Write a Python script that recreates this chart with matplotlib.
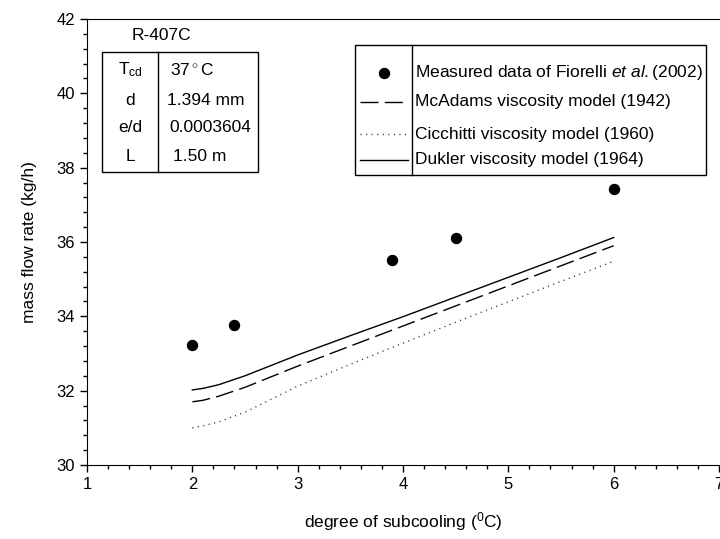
import numpy as np
import matplotlib.pyplot as plt
from matplotlib.ticker import MultipleLocator

plt.rcParams['font.family'] = 'Liberation Sans'
plt.rcParams['mathtext.fontset'] = 'custom'
plt.rcParams['mathtext.rm'] = 'Liberation Sans'
plt.rcParams['mathtext.it'] = 'Liberation Sans:italic'

# measured data (Fiorelli et al. 2002)
meas_x = [2.0, 2.4, 3.9, 4.5, 6.0]
meas_y = [33.24, 33.78, 35.52, 36.12, 37.43]

# model curves
model_x = [2.0, 2.1, 2.25, 2.5, 3.0, 3.5, 4.0, 4.5, 5.0, 5.5, 6.0]
mcadams = [31.70, 31.74, 31.85, 32.09, 32.66, 33.20, 33.74, 34.28, 34.82, 35.36, 35.90]
cicchitti = [31.00, 31.05, 31.16, 31.42, 32.12, 32.71, 33.28, 33.84, 34.39, 34.94, 35.48]
dukler = [32.02, 32.06, 32.16, 32.40, 32.96, 33.48, 33.99, 34.52, 35.05, 35.58, 36.12]

legend_labels = ['Measured data of Fiorelli $\\it{et\\ al.}$(2002)',
                 'McAdams viscosity model (1942)',
                 'Cicchitti viscosity model (1960)',
                 'Dukler viscosity model (1964)']

table_keys = ['T$_{\\rm cd}$', 'd', 'e/d', 'L']
table_vals = ['37$^\\circ$C', '1.394 mm', '0.0003604', '1.50 m']

fig = plt.figure(figsize=(7.2, 5.39), dpi=100)
ax = fig.add_axes([87/720, 1 - 465/539, 632/720, 446/539])

dash_style = (0, (13, 4.5))
dot_style = (0, (0.8, 3.2))

ax.plot(meas_x, meas_y, 'o', color='black', markersize=7.2, clip_on=False)
ax.plot(model_x, mcadams, color='black', lw=1.0, linestyle=dash_style)
ax.plot(model_x, cicchitti, color='#333333', lw=1.0, linestyle=dot_style)
ax.plot(model_x, dukler, color='black', lw=1.0)

ax.set_xlim(1, 7)
ax.set_ylim(30, 42)
ax.xaxis.set_major_locator(MultipleLocator(1))
ax.xaxis.set_minor_locator(MultipleLocator(0.2))
ax.yaxis.set_major_locator(MultipleLocator(2))
ax.yaxis.set_minor_locator(MultipleLocator(0.4))
ax.tick_params(which='both', direction='out', labelsize=12, width=1.0)
ax.tick_params(which='major', length=5)
ax.tick_params(which='minor', length=3)
ax.spines['right'].set_visible(False)
ax.set_xlabel('degree of subcooling ($^0$C)', fontsize=12.5, labelpad=13)
ax.set_ylabel('mass flow rate (kg/h)', fontsize=12.5, labelpad=14)

# legend box with divider
tr = ax.transAxes
ax.add_patch(plt.Rectangle((0.424, 0.650), 0.555, 0.2917, transform=tr,
                           fill=False, lw=1.0, ec='black'))
ax.plot([0.514, 0.514], [0.650, 0.9417], transform=tr, color='black', lw=1.0)
row_y = [0.879, 0.814, 0.742, 0.684]
ax.plot([0.470], [row_y[0]], 'o', color='black', markersize=7.2, transform=tr)
ax.plot([0.432, 0.508], [row_y[1]] * 2, transform=tr, color='black', lw=1.0,
        linestyle=dash_style)
ax.plot([0.432, 0.508], [row_y[2]] * 2, transform=tr, color='#333333', lw=1.0,
        linestyle=dot_style)
ax.plot([0.432, 0.508], [row_y[3]] * 2, transform=tr, color='black', lw=1.0)
for y, lab in zip(row_y, legend_labels):
    ax.text(0.519, y, lab, transform=tr, fontsize=12.5, va='center', ha='left')

# parameter table
ax.text(0.117, 0.964, 'R-407C', transform=tr, fontsize=12.5, ha='center', va='center')
ax.add_patch(plt.Rectangle((0.0233, 0.656), 0.2467, 0.269, transform=tr,
                           fill=False, lw=1.0, ec='black'))
ax.plot([0.1128, 0.1128], [0.656, 0.925], transform=tr, color='black', lw=1.0)
tab_y = [0.886, 0.818, 0.756, 0.691]
val_x = [0.131, 0.1266, 0.131, 0.136]
for y, k, v, vx in zip(tab_y, table_keys, table_vals, val_x):
    ax.text(0.068, y, k, transform=tr, fontsize=12.5, ha='center', va='center')
    ax.text(vx, y, v, transform=tr, fontsize=12.5, ha='left', va='center')

fig.savefig('out.png', dpi=100)
